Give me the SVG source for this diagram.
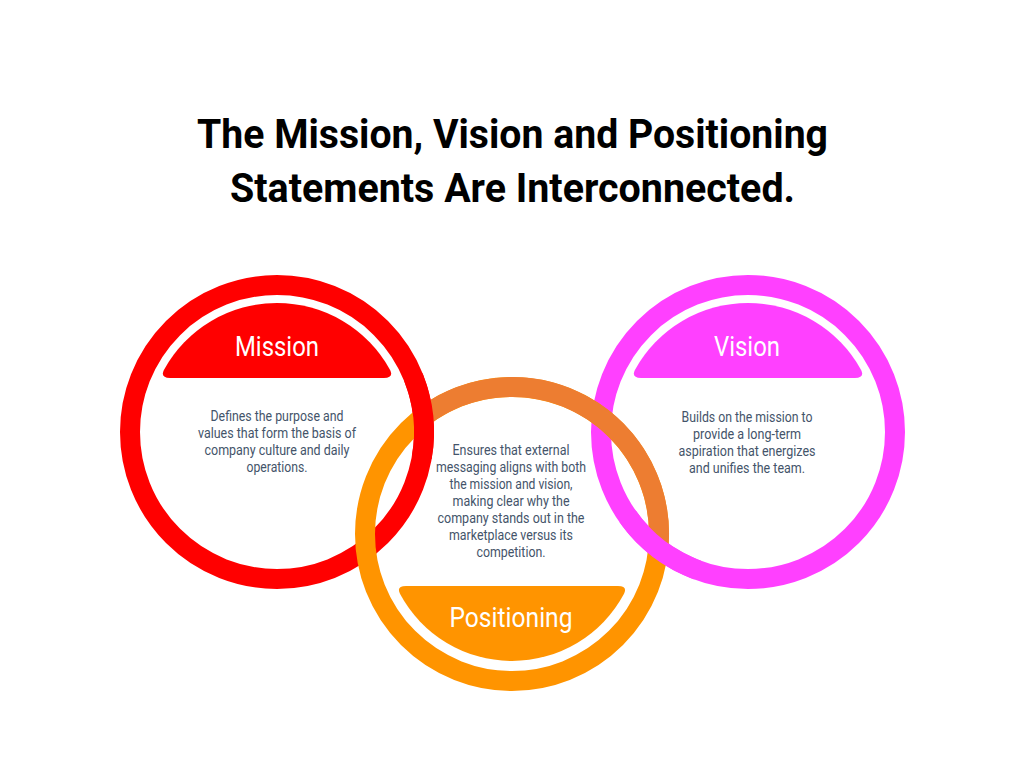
<svg xmlns="http://www.w3.org/2000/svg" width="1024" height="768" viewBox="0 0 1024 768">
<style>
.ring{fill:none;stroke-width:20}
.title{font-family:Roboto,"Liberation Sans",sans-serif;font-weight:bold;font-size:40px;fill:#000;text-anchor:middle}
.lbl{font-family:Roboto,"Liberation Sans",sans-serif;font-size:28px;fill:#fff;text-anchor:middle}
.body{font-family:Roboto,"Liberation Sans",sans-serif;font-size:15px;fill:#44546A;text-anchor:middle}
</style>
<rect width="1024" height="768" fill="#fff"/>
<g id="title">
<text class="title" x="512.5" y="148" textLength="631" lengthAdjust="spacingAndGlyphs">The Mission, Vision and Positioning</text>
<text class="title" x="512.5" y="202" textLength="565" lengthAdjust="spacingAndGlyphs">Statements Are Interconnected.</text>
</g>
<g id="rings">
<circle class="ring" cx="277" cy="432" r="147" stroke="#FF0000"/>
<circle class="ring" cx="748" cy="432" r="147" stroke="#FF40FF"/>
<circle class="ring" cx="512" cy="534" r="147" stroke="#FF9400"/>
<path class="ring" d="M423.2,416.9 A147 147 0 0 1 658.3,548.4" stroke="#ED7D31"/>
<path class="ring" d="M413.3,376.9 A147 147 0 0 1 421.8,457.5" stroke="#FF0000"/>
<path class="ring" d="M697.7,570.1 A147 147 0 0 1 627.6,516.3" stroke="#FF40FF"/>
</g>
<g id="mission">
<path d="M384,378 Q394,378 390.1,370 A129 129 0 0 0 163.9,370 Q160,378 170,378 Z" fill="#FF0000"/>
<text class="lbl" x="277" y="356" textLength="84" lengthAdjust="spacingAndGlyphs">Mission</text>
<text class="body" x="277" y="421" textLength="133" lengthAdjust="spacingAndGlyphs">Defines the purpose and</text>
<text class="body" x="277" y="438" textLength="158" lengthAdjust="spacingAndGlyphs">values that form the basis of</text>
<text class="body" x="277" y="455" textLength="145" lengthAdjust="spacingAndGlyphs">company culture and daily</text>
<text class="body" x="277" y="472" textLength="61" lengthAdjust="spacingAndGlyphs">operations.</text>
</g>
<g id="vision">
<path d="M855,378 Q865,378 861.1,370 A129 129 0 0 0 634.9,370 Q631,378 641,378 Z" fill="#FF40FF"/>
<text class="lbl" x="747" y="356" textLength="66" lengthAdjust="spacingAndGlyphs">Vision</text>
<text class="body" x="747" y="422" textLength="131" lengthAdjust="spacingAndGlyphs">Builds on the mission to</text>
<text class="body" x="747" y="439" textLength="108" lengthAdjust="spacingAndGlyphs">provide a long-term</text>
<text class="body" x="747" y="456" textLength="137" lengthAdjust="spacingAndGlyphs">aspiration that energizes</text>
<text class="body" x="747" y="473" textLength="116" lengthAdjust="spacingAndGlyphs">and unifies the team.</text>
</g>
<g id="positioning">
<path d="M406,586 L618,586 Q628,586 623.9,594 A127 127 0 0 1 400.1,594 Q396,586 406,586 Z" fill="#FF9400"/>
<text class="lbl" x="511" y="627" textLength="123" lengthAdjust="spacingAndGlyphs">Positioning</text>
<text class="body" x="511" y="455" textLength="117" lengthAdjust="spacingAndGlyphs">Ensures that external</text>
<text class="body" x="511" y="472" textLength="150" lengthAdjust="spacingAndGlyphs">messaging aligns with both</text>
<text class="body" x="511" y="489" textLength="123" lengthAdjust="spacingAndGlyphs">the mission and vision,</text>
<text class="body" x="511" y="506" textLength="117" lengthAdjust="spacingAndGlyphs">making clear why the</text>
<text class="body" x="511" y="523" textLength="147" lengthAdjust="spacingAndGlyphs">company stands out in the</text>
<text class="body" x="511" y="540" textLength="124" lengthAdjust="spacingAndGlyphs">marketplace versus its</text>
<text class="body" x="511" y="557" textLength="69" lengthAdjust="spacingAndGlyphs">competition.</text>
</g>
</svg>
